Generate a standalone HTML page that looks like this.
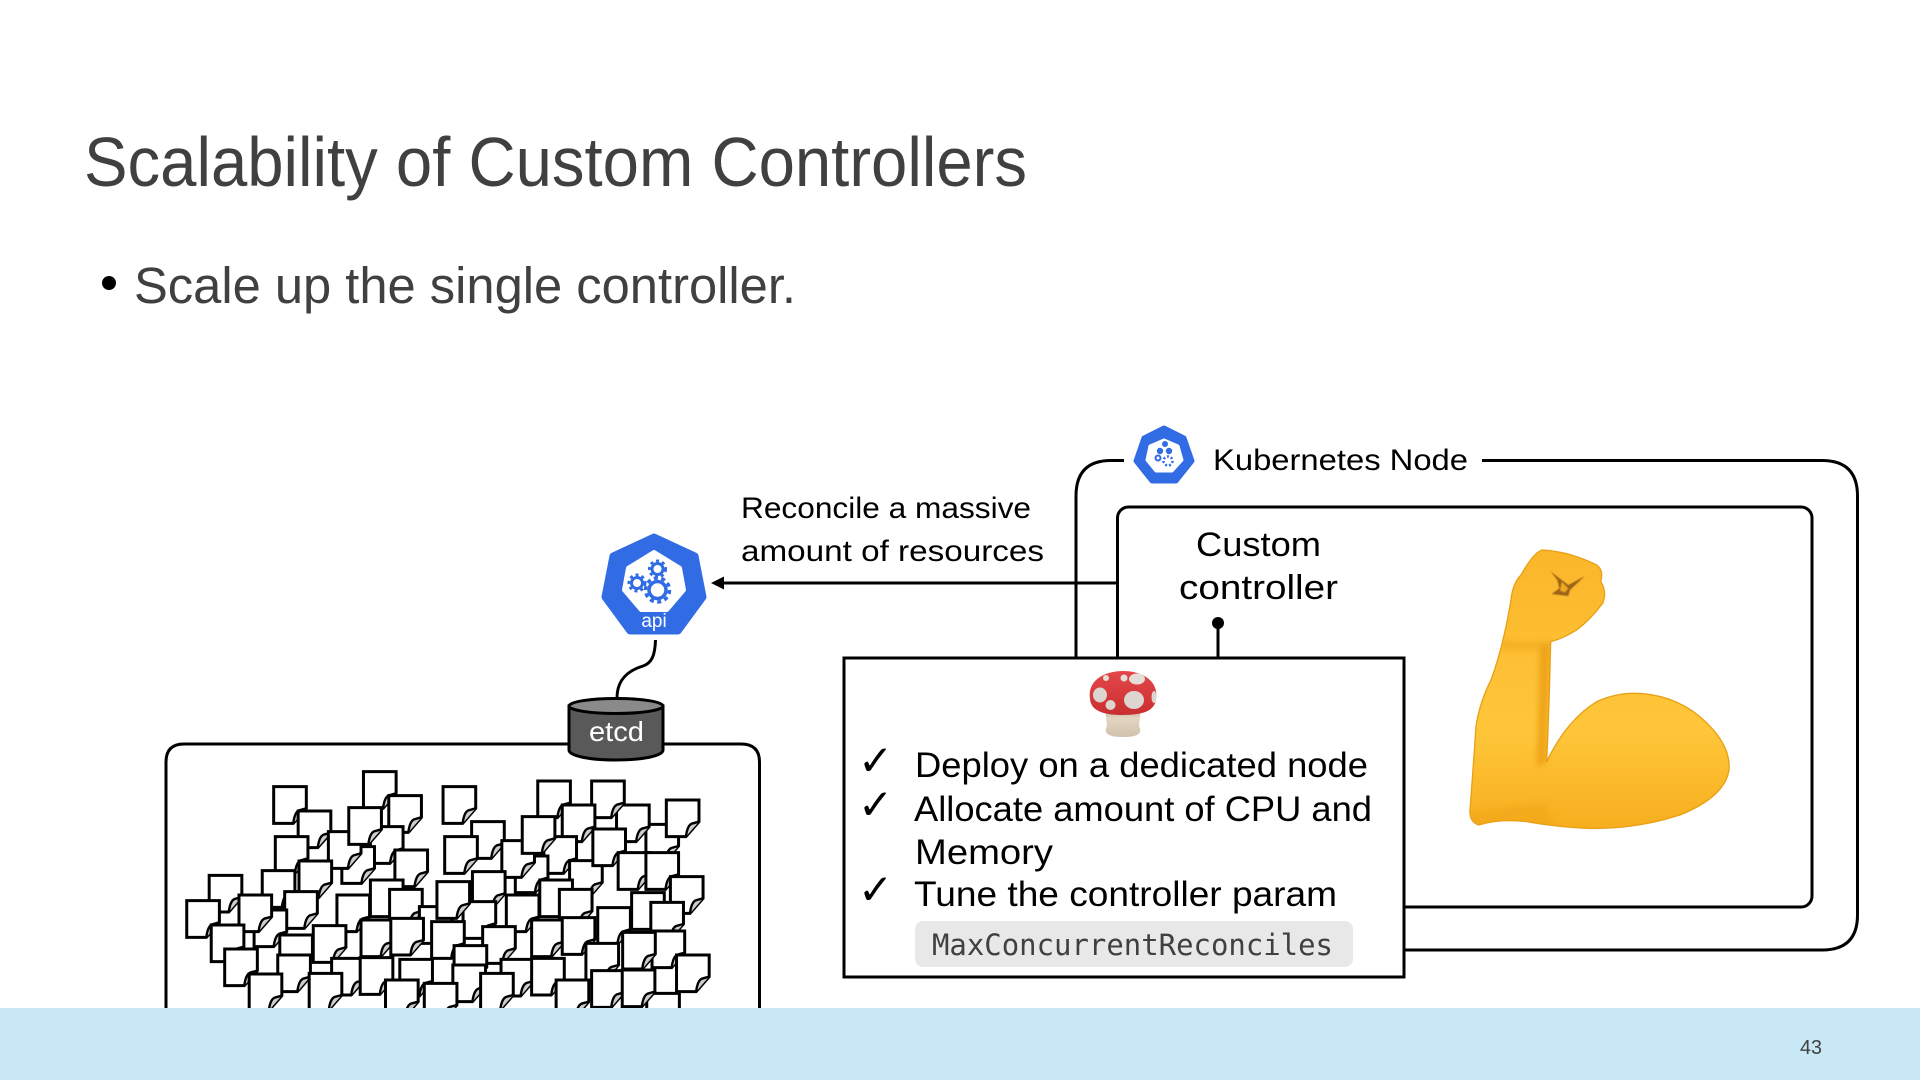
<!DOCTYPE html>
<html><head><meta charset="utf-8"><title>Scalability of Custom Controllers</title>
<style>
html,body{margin:0;padding:0;background:#fff}
svg{display:block}
text{font-family:"Liberation Sans",sans-serif}
</style></head><body>
<svg width="1920" height="1080" viewBox="0 0 1920 1080" xmlns="http://www.w3.org/2000/svg">
<defs>
<g id="d">
<path d="M0 0H80V65L48 110H0Z" fill="#fff" stroke="#000" stroke-width="3" vector-effect="non-scaling-stroke"/>
<path d="M48 110C50 90 55 75 62 71L80 65" fill="#ccc" stroke="#000" stroke-width="2.4" vector-effect="non-scaling-stroke"/>
</g>
<linearGradient id="arm" x1="0" y1="0" x2="0" y2="1"><stop offset="0" stop-color="#FBB62A"/><stop offset=".65" stop-color="#FFC63A"/><stop offset="1" stop-color="#F6AE1E"/></linearGradient>
<linearGradient id="cap" x1="0" y1="0" x2="0" y2="1"><stop offset="0" stop-color="#E4474A"/><stop offset="1" stop-color="#C92F30"/></linearGradient>
<linearGradient id="stem" x1="0" y1="0" x2="0" y2="1"><stop offset="0" stop-color="#B9A890"/><stop offset=".35" stop-color="#E3D6C2"/><stop offset="1" stop-color="#D0C1AC"/></linearGradient>
<filter id="soft" x="-5%" y="-5%" width="110%" height="110%"><feGaussianBlur stdDeviation="1.500"/></filter>
<filter id="soft2" filterUnits="userSpaceOnUse" x="0" y="0" width="1020" height="990"><feGaussianBlur stdDeviation="8"/></filter>
<clipPath id="armclip"><path d="M370 90Q450 95 530 135Q552 150 542 185Q562 215 548 250Q510 300 470 330Q430 355 392 365Q388 550 380 725Q440 600 530 545Q590 518 650 520Q790 525 880 630Q932 690 927 750Q915 830 780 885Q640 930 500 925Q400 920 320 905Q240 895 175 915Q148 905 150 870Q160 740 168 620Q178 550 213 480Q250 380 273 240Q278 190 303 165Q345 90 370 90Z"/></clipPath>
</defs>
<rect width="1920" height="1080" fill="#fff"/>

<text x="84" y="186" font-size="70" fill="#404040" textLength="943" lengthAdjust="spacingAndGlyphs">Scalability of Custom Controllers</text>
<circle cx="109" cy="283" r="7" fill="#000"/>
<text x="134" y="303" font-size="51" fill="#404040" textLength="662" lengthAdjust="spacingAndGlyphs">Scale up the single controller.</text>

<!-- Kubernetes node box -->
<path d="M1124 460.500H1111Q1076 460.500 1076 496V960M1482 460.500H1822Q1857.500 460.500 1857.500 496V915Q1857.500 950 1822 950H1300" fill="none" stroke="#000" stroke-width="3"/>
<rect x="1117.500" y="507" width="694.500" height="400" rx="11" fill="#fff" stroke="#000" stroke-width="3"/>
<line x1="1117" y1="583" x2="722" y2="583" stroke="#000" stroke-width="3"/>
<path d="M711 583L724 576.500V589.500Z" fill="#000"/>

<!-- node icon -->
<path d="M1164 428L1184 438L1192 461L1176 481H1152L1136 461L1144 438Z" fill="#326CE5" stroke="#326CE5" stroke-width="5" stroke-linejoin="round"/>
<path d="M1164 440L1178 446L1182 460L1172 471H1156L1147 460L1150 446Z" fill="#fff" stroke="#fff" stroke-width="3" stroke-linejoin="round"/>
<circle cx="1165" cy="444" r="3" fill="#326CE5"/><circle cx="1160" cy="451" r="3.200" fill="#326CE5"/><circle cx="1169" cy="451" r="3.200" fill="#326CE5"/>
<circle cx="1168" cy="461" r="4.500" fill="none" stroke="#326CE5" stroke-width="2.500" stroke-dasharray="2 2"/>
<circle cx="1158" cy="458" r="2.500" fill="none" stroke="#326CE5" stroke-width="2"/>
<text x="1213" y="470" font-size="30" fill="#000" textLength="255" lengthAdjust="spacingAndGlyphs">Kubernetes Node</text>

<text x="741" y="518" font-size="30" fill="#000" textLength="290" lengthAdjust="spacingAndGlyphs">Reconcile a massive</text>
<text x="741" y="561" font-size="30" fill="#000" textLength="303" lengthAdjust="spacingAndGlyphs">amount of resources</text>

<text x="1196" y="556" font-size="34" fill="#000" textLength="125" lengthAdjust="spacingAndGlyphs">Custom</text>
<text x="1179" y="599" font-size="34" fill="#000" textLength="159" lengthAdjust="spacingAndGlyphs">controller</text>
<circle cx="1218" cy="623" r="6" fill="#000"/>
<line x1="1218" y1="623" x2="1218" y2="660" stroke="#000" stroke-width="3"/>

<!-- muscle -->
<g transform="translate(1420,520) scale(.3333)">
<path d="M370 90Q450 95 530 135Q552 150 542 185Q562 215 548 250Q510 300 470 330Q430 355 392 365Q388 550 380 725Q440 600 530 545Q590 518 650 520Q790 525 880 630Q932 690 927 750Q915 830 780 885Q640 930 500 925Q400 920 320 905Q240 895 175 915Q148 905 150 870Q160 740 168 620Q178 550 213 480Q250 380 273 240Q278 190 303 165Q345 90 370 90Z" fill="url(#arm)" stroke="#E8A015" stroke-width="4"/>
<g clip-path="url(#armclip)">
<path filter="url(#soft2)" d="M392 370L378 730L350 740L360 380Z" fill="#E8980F" opacity=".7"/>
<path filter="url(#soft2)" d="M250 360Q320 375 392 362L380 385Q310 395 245 385Z" fill="#EDA51C" opacity=".6"/>
<path filter="url(#soft2)" d="M150 880Q260 860 380 850L400 925L170 925Z" fill="#EFA318" opacity=".5"/>
</g>
<path filter="url(#soft)" d="M392 155L445 195L495 168L450 210L445 228L395 222L418 205L412 180Z" fill="#9C6312"/>
<path filter="url(#soft)" d="M425 185L445 205L435 218L420 212Z" fill="#EDA822"/>
</g>

<!-- controller box -->
<rect x="844" y="658" width="560" height="319" fill="#fff" stroke="#000" stroke-width="3"/>
<!-- mushroom -->
<path d="M1105 708H1141L1139 726Q1145 737 1123 737Q1101 737 1107 726Z" fill="url(#stem)"/>
<path d="M1090 699C1087 680 1105 671 1123 671C1141 671 1159 680 1156 699C1155 712 1140 715 1123 715C1106 715 1091 712 1090 699Z" fill="url(#cap)"/>
<ellipse cx="1100" cy="695" rx="7" ry="7.500" fill="#DDD6D0"/><ellipse cx="1134" cy="700" rx="10" ry="9" fill="#DDD6D0"/><circle cx="1110.500" cy="705" r="5" fill="#DDD6D0"/><ellipse cx="1137" cy="679" rx="8" ry="5.500" fill="#E5DDD8"/><circle cx="1124" cy="678" r="3.500" fill="#E5DDD8"/><circle cx="1106" cy="678" r="3" fill="#E5DDD8"/><ellipse cx="1154" cy="697" rx="2.500" ry="6" fill="#DDD6D0"/>

<text x="858" y="775" font-size="42" fill="#000" style="font-family:'DejaVu Sans',sans-serif">✓</text>
<text x="858" y="819" font-size="42" fill="#000" style="font-family:'DejaVu Sans',sans-serif">✓</text>
<text x="858" y="904" font-size="42" fill="#000" style="font-family:'DejaVu Sans',sans-serif">✓</text>
<text x="915" y="777" font-size="35" fill="#000" textLength="453" lengthAdjust="spacingAndGlyphs">Deploy on a dedicated node</text>
<text x="914" y="821" font-size="35" fill="#000" textLength="458" lengthAdjust="spacingAndGlyphs">Allocate amount of CPU and</text>
<text x="915" y="864" font-size="35" fill="#000" textLength="138" lengthAdjust="spacingAndGlyphs">Memory</text>
<text x="914" y="906" font-size="35" fill="#000" textLength="423" lengthAdjust="spacingAndGlyphs">Tune the controller param</text>
<rect x="915" y="921" width="438" height="46" rx="8" fill="#E8E8E8"/>
<text x="932" y="955" font-size="29" fill="#404040" textLength="401" lengthAdjust="spacingAndGlyphs" style="font-family:'DejaVu Sans Mono','Liberation Mono',monospace">MaxConcurrentReconciles</text>

<!-- data box -->
<path d="M166 1010V762Q166 744 184 744H741Q759.500 744 759.500 762V1010" fill="none" stroke="#000" stroke-width="3"/>

<!-- documents -->
<g transform="translate(150,730) scale(.40816,.33333)">
<use href="#d" x="523" y="125"/><use href="#d" x="585" y="197"/><use href="#d" x="303" y="170"/><use href="#d" x="363" y="243"/><use href="#d" x="540" y="290"/><use href="#d" x="470" y="350"/><use href="#d" x="437" y="305"/><use href="#d" x="487" y="233"/><use href="#d" x="307" y="320"/><use href="#d" x="600" y="360"/><use href="#d" x="365" y="393"/><use href="#d" x="275" y="422"/><use href="#d" x="145" y="436"/><use href="#d" x="330" y="485"/><use href="#d" x="255" y="540"/><use href="#d" x="218" y="495"/><use href="#d" x="90" y="512"/>
<use href="#d" x="718" y="170"/><use href="#d" x="950" y="153"/><use href="#d" x="1215" y="283"/><use href="#d" x="1143" y="225"/><use href="#d" x="1082" y="153"/><use href="#d" x="1265" y="210"/><use href="#d" x="1010" y="225"/><use href="#d" x="788" y="275"/><use href="#d" x="965" y="320"/><use href="#d" x="895" y="378"/><use href="#d" x="862" y="332"/><use href="#d" x="912" y="260"/><use href="#d" x="722" y="320"/><use href="#d" x="1028" y="392"/><use href="#d" x="1085" y="297"/><use href="#d" x="1147" y="368"/><use href="#d" x="1215" y="368"/><use href="#d" x="790" y="425"/>
<use href="#d" x="1275" y="440"/><use href="#d" x="540" y="450"/><use href="#d" x="955" y="450"/><use href="#d" x="587" y="478"/><use href="#d" x="1003" y="478"/><use href="#d" x="1180" y="488"/><use href="#d" x="660" y="530"/><use href="#d" x="767" y="515"/><use href="#d" x="703" y="455"/><use href="#d" x="873" y="495"/><use href="#d" x="1227" y="517"/><use href="#d" x="1097" y="533"/>
<use href="#d" x="458" y="495"/><use href="#d" x="318" y="615"/><use href="#d" x="150" y="585"/><use href="#d" x="400" y="587"/><use href="#d" x="517" y="570"/><use href="#d" x="690" y="575"/><use href="#d" x="590" y="565"/><use href="#d" x="815" y="590"/><use href="#d" x="935" y="570"/><use href="#d" x="1010" y="563"/><use href="#d" x="745" y="647"/><use href="#d" x="1068" y="640"/><use href="#d" x="1230" y="603"/><use href="#d" x="1158" y="607"/><use href="#d" x="183" y="657"/><use href="#d" x="313" y="675"/><use href="#d" x="612" y="688"/><use href="#d" x="445" y="685"/><use href="#d" x="515" y="683"/><use href="#d" x="860" y="688"/><use href="#d" x="935" y="685"/><use href="#d" x="1290" y="675"/><use href="#d" x="742" y="705"/><use href="#d" x="810" y="730"/><use href="#d" x="390" y="730"/><use href="#d" x="243" y="732"/><use href="#d" x="577" y="750"/><use href="#d" x="672" y="760"/><use href="#d" x="995" y="750"/><use href="#d" x="1217" y="790"/><use href="#d" x="1082" y="722"/><use href="#d" x="1157" y="720"/>
</g>

<!-- wire -->
<path d="M655.500 640C655 655 652 663 643 666C630 670 617 678 617 698" fill="none" stroke="#000" stroke-width="3"/>

<!-- etcd -->
<path d="M569 706V750C569 756 590 760 616 760C642 760 663 756 663 750V706Z" fill="#595959" stroke="#000" stroke-width="3"/>
<ellipse cx="616" cy="706" rx="47" ry="7.500" fill="#8A8A8A" stroke="#000" stroke-width="3"/>
<text x="589" y="741" font-size="28" fill="#fff" textLength="55" lengthAdjust="spacingAndGlyphs">etcd</text>

<!-- api icon -->
<path d="M654 537L695 556L703 597L678 631H630L605 597L613 556Z" fill="#326CE5" stroke="#326CE5" stroke-width="7" stroke-linejoin="round"/>
<path d="M654 552L680 568L684 590L667 610H641L624 590L628 568Z" fill="#fff" stroke="#fff" stroke-width="4" stroke-linejoin="round"/>
<circle cx="657.500" cy="569" r="5.500" fill="none" stroke="#326CE5" stroke-width="3"/>
<circle cx="657.500" cy="569" r="8" fill="none" stroke="#326CE5" stroke-width="3" stroke-dasharray="3 3"/>
<circle cx="637" cy="583" r="5.500" fill="none" stroke="#326CE5" stroke-width="3"/>
<circle cx="637" cy="583" r="8" fill="none" stroke="#326CE5" stroke-width="3" stroke-dasharray="3 3"/>
<circle cx="657.500" cy="590" r="8.500" fill="none" stroke="#326CE5" stroke-width="3.500"/>
<circle cx="657.500" cy="590" r="12" fill="none" stroke="#326CE5" stroke-width="3.500" stroke-dasharray="4 3.500"/>
<text x="654" y="627" font-size="19" fill="#fff" text-anchor="middle">api</text>

<!-- footer -->
<rect x="0" y="1008" width="1920" height="72" fill="#C8E8F6"/>
<text x="1800" y="1054" font-size="20" fill="#404040" textLength="22" lengthAdjust="spacingAndGlyphs">43</text>
</svg>
</body></html>
